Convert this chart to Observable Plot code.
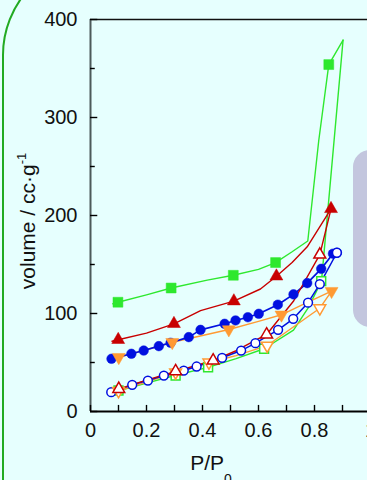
<!DOCTYPE html>
<html><head><meta charset="utf-8">
<script src="https://cdn.jsdelivr.net/npm/d3@7"></script>
<script src="https://cdn.jsdelivr.net/npm/@observablehq/plot@0.6"></script>
<style>
html,body{margin:0;padding:0;background:#e6fffe;overflow:hidden;}
#chart{position:relative;width:367px;height:480px;overflow:hidden;}
</style></head><body><div id="chart"></div>
<script>
// ---- tick values ----
const xTicks = [0, 0.2, 0.4, 0.6, 0.8, 1];
const xTickLabels = ["0", "0.2", "0.4", "0.6", "0.8", "1"];
const xMinor = [0, 0.1, 0.2, 0.3, 0.4, 0.5, 0.6, 0.7, 0.8, 0.9, 1];
const yTicks = [0, 100, 200, 300, 400];
const yMinor = [50, 150, 250, 350];

// ---- green (squares) ----
const greenAdsLine = [[0.08,110],[0.098,111.5],[0.2,119],[0.288,126],[0.417,134],[0.51,139],[0.6,145],[0.661,152],[0.72,163],[0.776,174],[0.815,276],[0.851,354],[0.902,379]];
const greenAdsPts = [[0.098,111.5],[0.288,126],[0.51,139],[0.661,152],[0.851,354]];
const greenDesLine = [[0.902,379],[0.825,133],[0.778,106],[0.725,83],[0.62,64],[0.52,54],[0.42,45],[0.304,37],[0.2,29],[0.1,21],[0.08,20]];
const greenDesPts = [[0.1,21.4],[0.304,36.7],[0.42,45],[0.62,64],[0.824,133]];

// ---- red (triangles) ----
const redAdsLine = [[0.077,71.7],[0.099,73.2],[0.2,80],[0.298,89.5],[0.393,103],[0.512,112.6],[0.607,125],[0.664,138],[0.72,152],[0.774,168],[0.859,206.8]];
const redAdsPts = [[0.099,73.2],[0.298,89.5],[0.512,112.6],[0.664,138],[0.859,206.8]];
const redDesLine = [[0.859,206.8],[0.819,160],[0.726,113],[0.629,78.6],[0.52,62],[0.438,52],[0.304,41],[0.2,32],[0.101,23],[0.08,21.5]];
const redDesPts = [[0.101,23],[0.304,41],[0.438,52],[0.629,78.6],[0.819,160]];

// ---- blue (circles) ----
const blueAdsPts = [[0.075,53.8],[0.146,58.9],[0.19,62.2],[0.244,66.7],[0.286,70.1],[0.351,75.9],[0.393,83.3],[0.479,89.5],[0.518,92.9],[0.562,96.2],[0.601,99.7],[0.669,109],[0.725,119.5],[0.774,131],[0.824,145.6],[0.866,161],[0.88,162]];
const blueDesPts = [[0.88,162],[0.819,130],[0.777,111],[0.724,94.6],[0.67,83.3],[0.589,69.7],[0.538,62.2],[0.47,54.8],[0.379,45.9],[0.333,41.8],[0.262,36.7],[0.205,31.6],[0.149,27.2],[0.074,19.7]];

// ---- orange (inverted triangles) ----
const orangeAdsLine = [[0.08,54],[0.101,55.4],[0.2,63],[0.292,70.7],[0.4,77.6],[0.494,83.7],[0.6,92],[0.682,98.7],[0.75,108],[0.861,122.8]];
const orangeAdsPts = [[0.101,55.4],[0.292,70.7],[0.494,83.7],[0.682,98.7],[0.861,122.8]];
const orangeDesLine = [[0.861,122.8],[0.819,105.4],[0.631,67.3],[0.52,57],[0.423,50],[0.304,40],[0.2,30],[0.1,21],[0.08,20]];
const orangeDesPts = [[0.1,21],[0.304,40],[0.423,50],[0.631,67.3],[0.819,105.4]];

const GREEN = "#2ee82e", RED = "#c80000", BLUE = "#0010e0", ORANGE = "#ff9a33";

const triangleDown = {
  draw(context, size) {
    const s3 = Math.sqrt(3);
    const y = -Math.sqrt(size / (s3 * 3));
    context.moveTo(0, -y * 2);
    context.lineTo(-s3 * y, y);
    context.lineTo(s3 * y, y);
    context.closePath();
  }
};

const X = d => d[0], Y = d => d[1];
const ln = (data, stroke, w = 1.4) => Plot.line(data, {x: X, y: Y, stroke, strokeWidth: w});
const dots = (data, symbol, color, filled, r) => Plot.dot(data, {
  x: X, y: Y, symbol, r,
  fill: filled ? color : "white", stroke: color, strokeWidth: filled ? 0.5 : 1.5
});

const chart = Plot.plot({
  width: 367, height: 480,
  marginTop: 19, marginBottom: 69, marginLeft: 90, marginRight: 0,
  x: {domain: [0, 1], range: [90, 370], axis: null},
  y: {domain: [0, 400], range: [411, 19], axis: null},
  style: {background: "transparent", fontFamily: "'Liberation Sans', Arial, sans-serif", overflow: "visible"},
  marks: [
    // lines
    ln(greenAdsLine, GREEN), ln(greenDesLine, GREEN),
    ln(orangeAdsLine, ORANGE), ln(orangeDesLine, ORANGE),
    ln(blueAdsPts, BLUE, 1.7), ln(blueDesPts, BLUE, 1.5),
    ln(redAdsLine, RED), ln(redDesLine, RED),
    // markers
    dots(greenAdsPts, "square", GREEN, true, 5.6),
    dots(greenDesPts, "square", GREEN, false, 5.0),
    dots(blueAdsPts, "circle", BLUE, true, 4.8),
    dots(blueDesPts, "circle", BLUE, false, 4.4),
    dots(orangeAdsPts, triangleDown, ORANGE, true, 4.8),
    dots(orangeDesPts, triangleDown, ORANGE, false, 4.4),
    dots(redAdsPts, "triangle", RED, true, 4.8),
    dots(redDesPts, "triangle", RED, false, 4.4),
    // axes frame
    Plot.ruleY([400], {stroke: "#111", strokeWidth: 1.6}),
    Plot.ruleX([0], {stroke: "#4d5a5a", strokeWidth: 2}),
    Plot.ruleY([0], {x1: 0, x2: 1.2, stroke: "#000", strokeWidth: 2.2}),
    // inward ticks
    Plot.ruleX(xMinor, {x: d => d, y1: 0, y2: 6.2, stroke: "#000", strokeWidth: 1.4}),
    Plot.ruleY(yTicks, {y: d => d, x1: 0, x2: 0.026, stroke: "#000", strokeWidth: 1.4}),
    Plot.ruleY(yMinor, {y: d => d, x1: 0, x2: 0.017, stroke: "#000", strokeWidth: 1.4}),
    // tick labels
    Plot.text(xTicks, {x: d => d, y: 0, text: (d, i) => xTickLabels[i], dy: 19, fontSize: 20, fill: "#111"}),
    Plot.text(yTicks, {x: 0, y: d => d, text: d => String(d), dx: -13, textAnchor: "end", fontSize: 20, fill: "#111"})
  ]
});

const holder = document.getElementById("chart");
holder.appendChild(chart);

const svg = d3.select(chart);
// decorations behind
const bg = svg.insert("g", ":first-child");
bg.append("rect").attr("x", 3).attr("y", -42).attr("width", 600).attr("height", 700)
  .attr("rx", 97).attr("fill", "none").attr("stroke", "#22aa22").attr("stroke-width", 2);
bg.append("rect").attr("x", 353).attr("y", 150).attr("width", 60).attr("height", 177)
  .attr("rx", 17).attr("fill", "#c3c6de");

// axis titles
const yl = svg.append("text")
  .attr("transform", "translate(35,221) rotate(-90)")
  .attr("text-anchor", "middle")
  .attr("font-family", "'Liberation Sans', Arial, sans-serif")
  .attr("font-size", 21).attr("fill", "#111");
yl.append("tspan").text("volume / cc·g");
yl.append("tspan").attr("dy", -9).attr("font-size", 13).text("-1");

const xl = svg.append("text")
  .attr("x", 211).attr("y", 470)
  .attr("font-family", "'Liberation Sans', Arial, sans-serif")
  .attr("font-size", 21).attr("fill", "#111");
xl.append("tspan").text("P/P");
xl.append("tspan").attr("dy", 14).attr("font-size", 14).text("0");
</script>
</body></html>
